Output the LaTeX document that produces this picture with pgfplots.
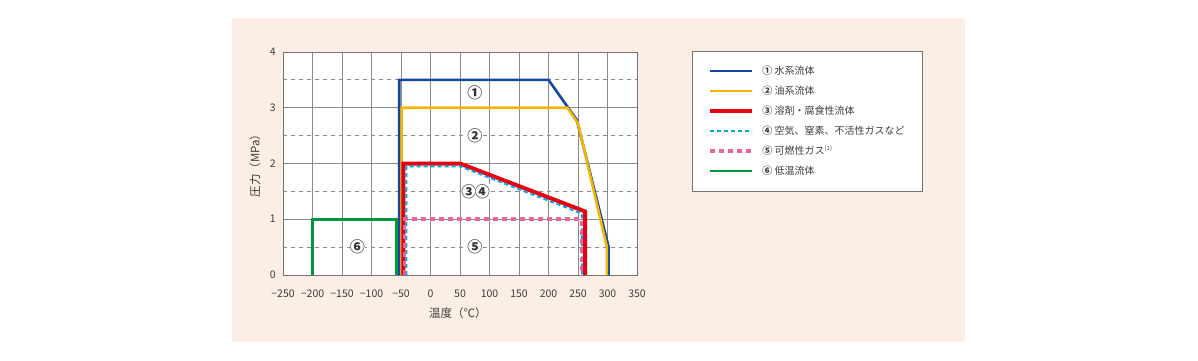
\documentclass[border=0pt]{standalone}
\usepackage{pgfplots}
\pgfplotsset{compat=1.18}
\usepackage{fontspec}
\setmainfont{Noto Sans CJK JP}
\definecolor{bgpink}{RGB}{253,238,229}
\definecolor{gridgray}{RGB}{140,140,140}
\definecolor{framegray}{RGB}{115,115,115}
\definecolor{textgray}{RGB}{60,60,60}
\definecolor{cA}{RGB}{20,70,165}
\definecolor{cB}{RGB}{247,181,0}
\definecolor{cC}{RGB}{230,0,18}
\definecolor{cD}{RGB}{0,165,230}
\definecolor{cE}{RGB}{235,100,160}
\definecolor{cF}{RGB}{0,150,60}
\begin{document}
\begin{tikzpicture}
\fill[white] (0pt,0pt) rectangle (1198pt,360pt);
\fill[bgpink] (232pt,18pt) rectangle (965pt,342pt);
\begin{axis}[
  at={(283pt,85pt)}, anchor=south west, scale only axis,
  width=354pt, height=223pt,
  xmin=-250, xmax=350, ymin=0, ymax=4,
  xtick={-250,-200,...,350},
  xticklabels={−250,−200,−150,−100,−50,0,50,100,150,200,250,300,350},
  ytick={0,1,2,3,4}, yticklabels={0,1,2,3,4},
  minor ytick={0.5,1.5,2.5,3.5},
  xmajorgrids, ymajorgrids, yminorgrids,
  major grid style={draw=gridgray, line width=0.8pt},
  minor grid style={draw=gridgray, line width=0.8pt, dash pattern=on 4pt off 4pt},
  major tick length=0pt, minor tick length=0pt,
  axis line style={draw=framegray, line width=1pt},
  axis background/.style={fill=white},
  no markers,
  xticklabel style={font=\fontsize{10.5}{12}\selectfont, text=textgray, yshift=-11pt},
  yticklabel style={font=\fontsize{10.5}{12}\selectfont, text=textgray, xshift=-3.7pt},
  xlabel={温度（℃）}, ylabel={圧力（MPa）},
  xlabel style={at={(axis description cs:0.494,-0.17)}, anchor=center, font=\fontsize{11.5}{13}\selectfont, text=textgray},
  ylabel style={at={(axis description cs:-0.079,0.502)}, anchor=center, font=\fontsize{11.5}{13}\selectfont, text=textgray},
  legend cell align=left,
  legend image code/.code={\draw[#1] (0pt,0pt) -- (42pt,0pt);},
  legend style={at={(axis description cs:1.1554,1.0045)}, anchor=north west,
    draw=framegray, fill=white, line width=0.8pt,
    inner xsep=16pt, inner ysep=12.5pt, row sep=5.5pt,
    font=\fontsize{10}{12}\selectfont, text=textgray,
    nodes={text height=9.5pt, text depth=3pt, inner ysep=1pt},
    /tikz/every odd column/.append style={column sep=6pt}},
]
\addplot[draw=cA, line width=2.6pt] coordinates {(-53,0) (-53,3.5) (200,3.5) (248,2.78) (302,0.5) (302,0)};
\addlegendentry{{\bfseries ①} 水系流体}
\addplot[draw=cB, line width=2.6pt] coordinates {(-49,0) (-49,3) (232,3) (250,2.72) (299,0.5) (299,0)};
\addlegendentry{{\bfseries ②} 油系流体}
\addplot[draw=cC, line width=4pt] coordinates {(-46,0) (-46,2) (50,2) (262,1.14) (262,0)};
\addlegendentry{{\bfseries ③} 溶剤・腐食性流体}
\addplot[draw=cD, line width=2pt, dash pattern=on 4pt off 3pt] coordinates {(-41,0) (-41,1.95) (50,1.95) (257,1.1) (257,0)};
\addlegendentry{{\bfseries ④} 空気、窒素、不活性ガスなど}
\addplot[draw=cE, line width=3.8pt, dash pattern=on 5pt off 4pt] coordinates {(-44,0) (-44,1) (256,1) (256,0)};
\addlegendentry{{\bfseries ⑤} 可燃性ガス\textsuperscript{\fontsize{6}{7}\selectfont(1)}}
\addplot[draw=cF, line width=2.6pt] coordinates {(-200,0) (-200,1) (-58,1) (-58,0)};
\addlegendentry{{\bfseries ⑥} 低温流体}
\node[font=\fontsize{15}{17}\selectfont\bfseries, text=black!80, fill=white, inner sep=0pt] at (axis cs:75,3.27) {①};
\node[font=\fontsize{15}{17}\selectfont\bfseries, text=black!80, fill=white, inner sep=0pt] at (axis cs:75,2.5) {②};
\node[font=\fontsize{15}{17}\selectfont\bfseries, text=black!80, fill=white, inner sep=0pt] at (axis cs:65,1.5) {③};
\node[font=\fontsize{15}{17}\selectfont\bfseries, text=black!80, fill=white, inner sep=0pt] at (axis cs:88,1.5) {④};
\node[font=\fontsize{15}{17}\selectfont\bfseries, text=black!80, fill=white, inner sep=0pt] at (axis cs:75,0.5) {⑤};
\node[font=\fontsize{15}{17}\selectfont\bfseries, text=black!80, fill=white, inner sep=0pt] at (axis cs:-124,0.5) {⑥};
\node[font=\fontsize{10.5}{12}\selectfont, text=textgray, anchor=center, yshift=-7pt] at (axis cs:260,0) {260};
\end{axis}
\end{tikzpicture}
\end{document}
